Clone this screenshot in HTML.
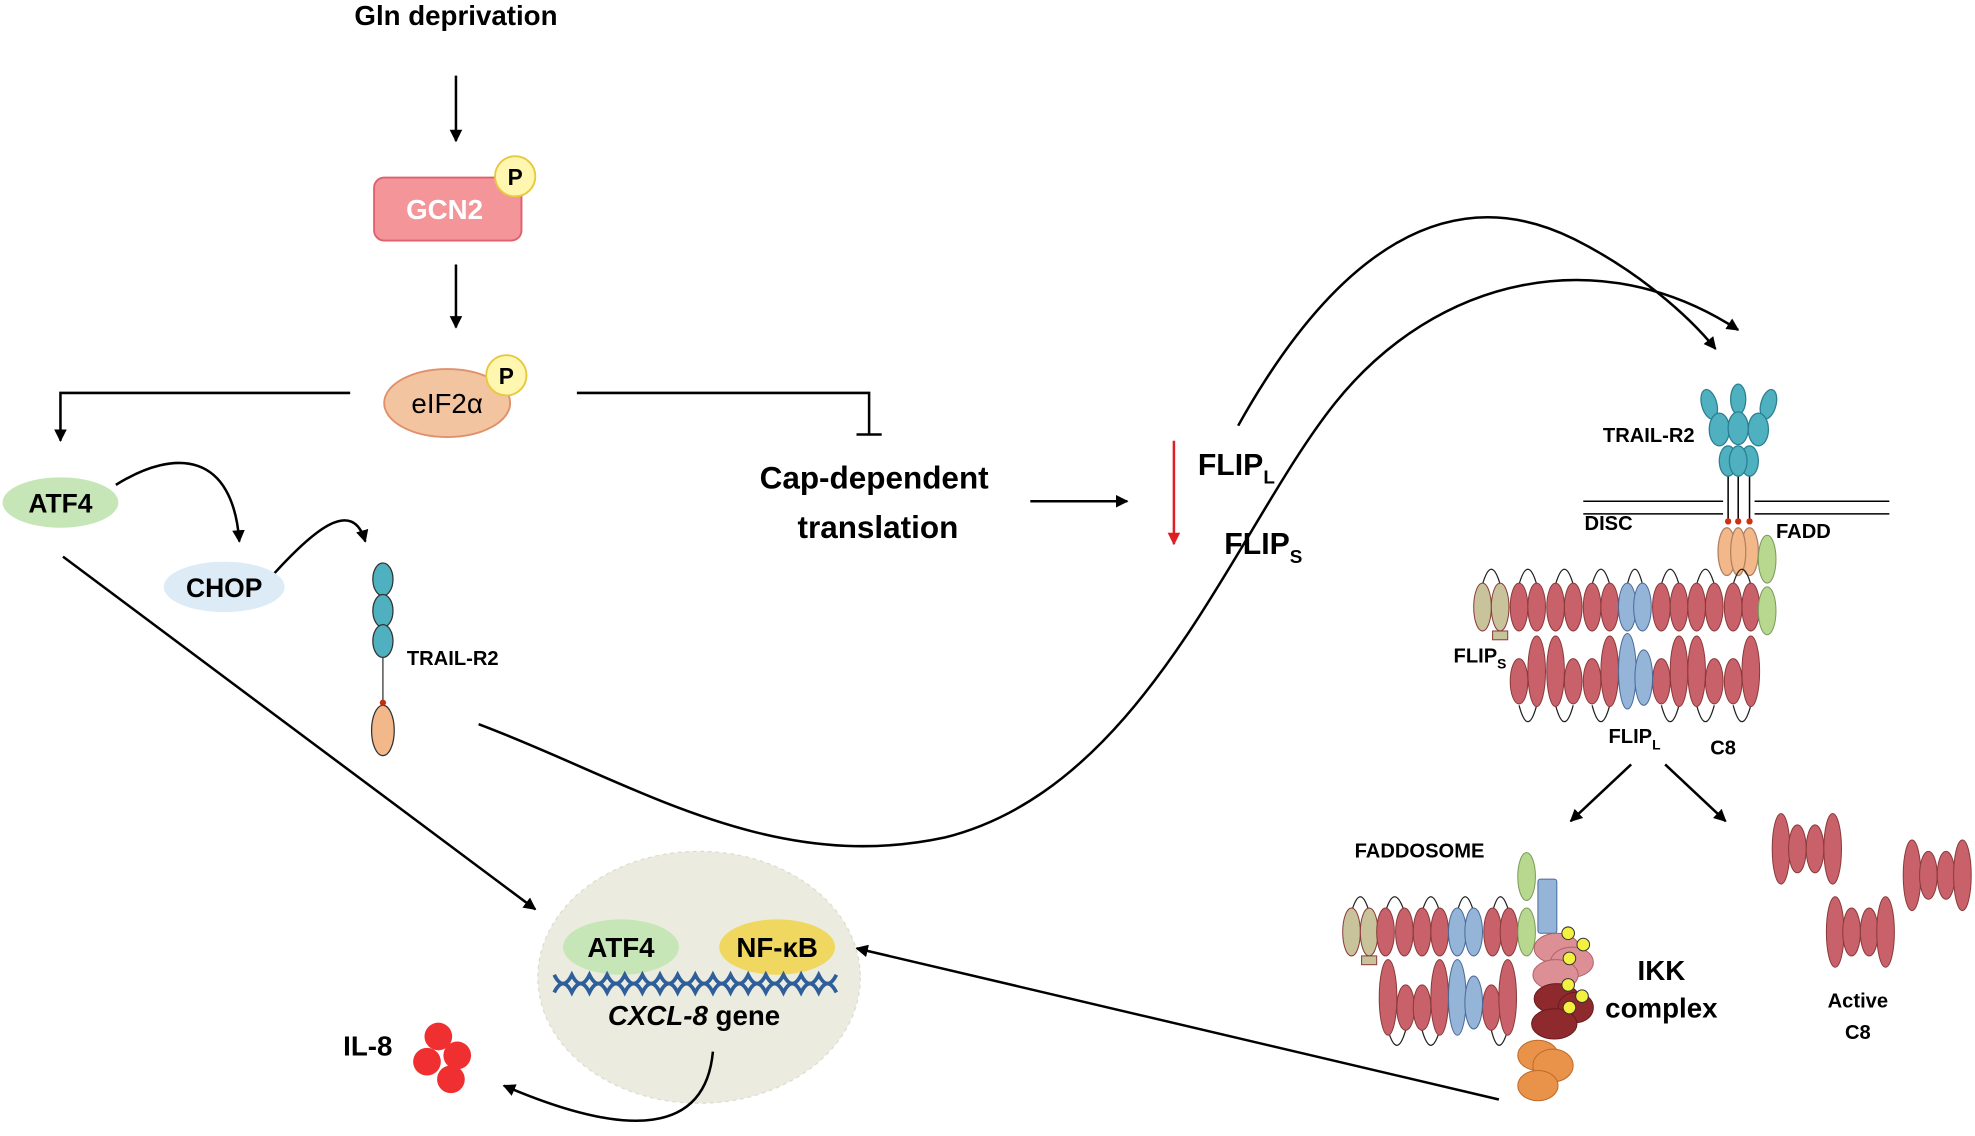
<!DOCTYPE html>
<html><head><meta charset="utf-8"><style>html,body{margin:0;padding:0;background:#fff}svg{display:block}</style></head>
<body>
<svg width="1975" height="1136" viewBox="0 0 1568 902" preserveAspectRatio="none" xmlns="http://www.w3.org/2000/svg" font-family="Liberation Sans, sans-serif" font-weight="bold">
<defs>
<marker id="ah" markerWidth="10" markerHeight="10" refX="9" refY="5" orient="auto" markerUnits="userSpaceOnUse"><path d="M0,0 L10,5 L0,10 z" fill="#000"/></marker>
<marker id="ahr" markerWidth="10" markerHeight="10" refX="9" refY="5" orient="auto" markerUnits="userSpaceOnUse"><path d="M0,0 L10,5 L0,10 z" fill="#e02020"/></marker>
</defs>
<g stroke="#000" stroke-width="2" fill="none">
<line x1="362" y1="60" x2="362" y2="112" marker-end="url(#ah)"/>
<line x1="362" y1="210" x2="362" y2="260" marker-end="url(#ah)"/>
<polyline points="278,312 48,312 48,350" marker-end="url(#ah)"/>
<polyline points="458,312 690,312 690,345"/>
<line x1="680" y1="345" x2="700" y2="345"/>
<path d="M92,385 C140,355 185,360 190,430" marker-end="url(#ah)"/>
<path d="M218,455 C250,420 280,395 290,430" marker-end="url(#ah)"/>
<line x1="818" y1="398" x2="895" y2="398" marker-end="url(#ah)"/>
<path d="M983,338 C1060,200 1150,140 1250,190 C1300,215 1340,250 1362,277" marker-end="url(#ah)"/>
<path d="M380,575 C500,620 610,695 750,665 C910,625 980,420 1060,320 C1140,220 1270,190 1380,262" marker-end="url(#ah)"/>
<line x1="50" y1="442" x2="425" y2="722" marker-end="url(#ah)"/>
<line x1="1190" y1="873" x2="680" y2="753" marker-end="url(#ah)"/>
<line x1="1295" y1="607" x2="1247" y2="652" marker-end="url(#ah)"/>
<line x1="1322" y1="607" x2="1370" y2="652" marker-end="url(#ah)"/>
</g>
<line x1="932" y1="350" x2="932" y2="432" stroke="#e02020" stroke-width="2" marker-end="url(#ahr)"/>

<text x="362" y="20" font-size="22" text-anchor="middle">Gln deprivation</text>
<rect x="297" y="141" width="117" height="50" rx="8" fill="#f4959a" stroke="#e0606e" stroke-width="1.5"/>
<text x="353" y="174" font-size="22" fill="#fff" text-anchor="middle">GCN2</text>
<circle cx="409" cy="140" r="16" fill="#fff6b0" stroke="#e8c840" stroke-width="1.5"/>
<text x="409" y="147" font-size="18" text-anchor="middle">P</text>
<ellipse cx="355" cy="320" rx="50" ry="27" fill="#f2c4a0" stroke="#e0906a" stroke-width="1.5"/>
<text x="355" y="328" font-size="22" font-weight="normal" text-anchor="middle">eIF2α</text>
<circle cx="402" cy="298" r="16" fill="#fff6b0" stroke="#e8c840" stroke-width="1.5"/>
<text x="402" y="305" font-size="18" text-anchor="middle">P</text>
<ellipse cx="48" cy="399" rx="46" ry="20" fill="#c6e6b8"/>
<text x="48" y="407" font-size="21" text-anchor="middle">ATF4</text>
<ellipse cx="178" cy="466" rx="48" ry="20" fill="#dcebf6"/>
<text x="178" y="474" font-size="21" text-anchor="middle">CHOP</text>
<g stroke="#333" stroke-width="1">
<line x1="304" y1="520" x2="304" y2="558"/>
<ellipse cx="304" cy="460" rx="8" ry="13" fill="#4fb0c0"/>
<ellipse cx="304" cy="485" rx="8" ry="13" fill="#4fb0c0"/>
<ellipse cx="304" cy="509" rx="8" ry="13" fill="#4fb0c0"/>
<ellipse cx="304" cy="580" rx="9" ry="20" fill="#f2b88a"/>
</g>
<circle cx="304" cy="558" r="2.5" fill="#c03010"/>
<text x="323" y="528" font-size="16">TRAIL-R2</text>
<text x="694" y="388" font-size="25" text-anchor="middle">Cap-dependent</text>
<text x="697" y="427" font-size="25" text-anchor="middle">translation</text>
<text x="951" y="377" font-size="24">FLIP<tspan font-size="15" dy="7">L</tspan></text>
<text x="972" y="440" font-size="24">FLIP<tspan font-size="15" dy="7">S</tspan></text>

<ellipse cx="555" cy="776" rx="128" ry="100" fill="#ebecdf" stroke="#dcdcd0" stroke-dasharray="3,3"/>
<path d="M566,835 C560,900 500,905 400,862" stroke="#000" stroke-width="2" fill="none" marker-end="url(#ah)"/>
<ellipse cx="493" cy="752" rx="46" ry="22" fill="#c6e6b8"/>
<text x="493" y="760" font-size="22" text-anchor="middle">ATF4</text>
<ellipse cx="617" cy="752" rx="46" ry="22" fill="#f0d860"/>
<text x="617" y="760" font-size="22" text-anchor="middle">NF-κB</text>
<g stroke="#2f5f9a" stroke-width="3" fill="none">
<path d="M440,774 q7,14 14,0 q7,14 14,0 q7,14 14,0 q7,14 14,0 q7,14 14,0 q7,14 14,0 q7,14 14,0 q7,14 14,0 q7,14 14,0 q7,14 14,0 q7,14 14,0 q7,14 14,0 q7,14 14,0 q7,14 14,0 q7,14 14,0 q7,14 14,0"/>
<path d="M440,788 q7,-14 14,0 q7,-14 14,0 q7,-14 14,0 q7,-14 14,0 q7,-14 14,0 q7,-14 14,0 q7,-14 14,0 q7,-14 14,0 q7,-14 14,0 q7,-14 14,0 q7,-14 14,0 q7,-14 14,0 q7,-14 14,0 q7,-14 14,0 q7,-14 14,0 q7,-14 14,0"/>
</g>
<text x="551" y="814" font-size="22" text-anchor="middle"><tspan font-style="italic">CXCL-8</tspan> gene</text>
<text x="292" y="838" font-size="22" text-anchor="middle">IL-8</text>
<g fill="#f03030"><circle cx="348" cy="823" r="11"/><circle cx="339" cy="843" r="11"/><circle cx="363" cy="838" r="11"/><circle cx="358" cy="857" r="11"/></g>

<!-- DISC -->
<g stroke="#000" stroke-width="1.2">
<line x1="1257" y1="398" x2="1368" y2="398"/><line x1="1257" y1="408" x2="1368" y2="408"/>
<line x1="1393" y1="398" x2="1500" y2="398"/><line x1="1393" y1="408" x2="1500" y2="408"/>
<line x1="1372" y1="375" x2="1372" y2="414"/><line x1="1380" y1="375" x2="1380" y2="414"/><line x1="1389" y1="375" x2="1389" y2="414"/>
</g>
<g fill="#4fb0c0" stroke="#2a7f90" stroke-width="1">
<ellipse cx="1357" cy="321" rx="6" ry="12" transform="rotate(-15 1357 321)"/><ellipse cx="1380" cy="317" rx="6" ry="12"/><ellipse cx="1404" cy="321" rx="6" ry="12" transform="rotate(15 1404 321)"/>
<ellipse cx="1365" cy="341" rx="8" ry="13"/><ellipse cx="1396" cy="341" rx="8" ry="13"/><ellipse cx="1380" cy="340" rx="8" ry="13"/>
<ellipse cx="1372" cy="366" rx="7" ry="12"/><ellipse cx="1389" cy="366" rx="7" ry="12"/><ellipse cx="1380" cy="366" rx="7" ry="12"/>
</g>
<g fill="#d03010"><circle cx="1372" cy="414" r="2.5"/><circle cx="1380" cy="414" r="2.5"/><circle cx="1389" cy="414" r="2.5"/></g>
<g fill="#f2b88a" stroke="#b08060"><ellipse cx="1371" cy="438" rx="7" ry="19"/><ellipse cx="1389" cy="438" rx="7" ry="19"/><ellipse cx="1380" cy="438" rx="6" ry="19"/></g>
<g fill="none" stroke="#222" stroke-width="1">
<path d="M1177,464 Q1184,440 1191,464 M1206,464 Q1213,440 1220,464 M1235,464 Q1242,440 1249,464 M1264,464 Q1271,440 1278,464 M1292,464 Q1298,440 1304,464 M1319,464 Q1326,440 1333,464 M1347,464 Q1354,440 1361,464 M1376,464 Q1383,440 1390,464"/>
<path d="M1206,560 Q1213,586 1220,560 M1235,560 Q1242,586 1249,560 M1264,560 Q1271,586 1278,560 M1319,560 Q1326,586 1333,560 M1347,560 Q1354,586 1361,560 M1376,560 Q1383,586 1390,560"/>
</g>
<g stroke="#8a3a3a" stroke-width="0.8">
<ellipse cx="1177" cy="482" rx="7" ry="19" fill="#c8c39a"/><ellipse cx="1191" cy="482" rx="7" ry="19" fill="#c8c39a"/>
<rect x="1185" y="501" width="12" height="7" fill="#c8c39a"/>
<g fill="#c8616a">
<ellipse cx="1206" cy="482" rx="7" ry="19"/><ellipse cx="1220" cy="482" rx="7" ry="19"/><ellipse cx="1235" cy="482" rx="7" ry="19"/><ellipse cx="1249" cy="482" rx="7" ry="19"/><ellipse cx="1264" cy="482" rx="7" ry="19"/><ellipse cx="1278" cy="482" rx="7" ry="19"/><ellipse cx="1319" cy="482" rx="7" ry="19"/><ellipse cx="1333" cy="482" rx="7" ry="19"/><ellipse cx="1347" cy="482" rx="7" ry="19"/><ellipse cx="1361" cy="482" rx="7" ry="19"/><ellipse cx="1376" cy="482" rx="7" ry="19"/><ellipse cx="1390" cy="482" rx="7" ry="19"/>
<ellipse cx="1206" cy="541" rx="7" ry="18"/><ellipse cx="1220" cy="533" rx="7" ry="28"/><ellipse cx="1235" cy="533" rx="7" ry="28"/><ellipse cx="1249" cy="541" rx="7" ry="18"/><ellipse cx="1264" cy="541" rx="7" ry="18"/><ellipse cx="1278" cy="533" rx="7" ry="28"/><ellipse cx="1319" cy="541" rx="7" ry="18"/><ellipse cx="1333" cy="533" rx="7" ry="28"/><ellipse cx="1347" cy="533" rx="7" ry="28"/><ellipse cx="1361" cy="541" rx="7" ry="18"/><ellipse cx="1376" cy="541" rx="7" ry="18"/><ellipse cx="1390" cy="533" rx="7" ry="28"/>
</g>
<g fill="#94b4d8" stroke="#4a6a9a"><ellipse cx="1292" cy="482" rx="7" ry="19"/><ellipse cx="1304" cy="482" rx="7" ry="19"/><ellipse cx="1292" cy="533" rx="7" ry="30"/><ellipse cx="1305" cy="538" rx="7" ry="22"/></g>
<g fill="#b8d890" stroke="#7a9a5a"><ellipse cx="1403" cy="444" rx="7" ry="19"/><ellipse cx="1403" cy="485" rx="7" ry="19"/></g>
</g>
<g font-size="16">
<text x="1309" y="351" text-anchor="middle">TRAIL-R2</text>
<text x="1258" y="421">DISC</text>
<text x="1410" y="427">FADD</text>
<text x="1154" y="526">FLIP<tspan font-size="11" dy="5">S</tspan></text>
<text x="1277" y="590">FLIP<tspan font-size="11" dy="5">L</tspan></text>
<text x="1368" y="599" text-anchor="middle">C8</text>
<text x="1127" y="681" text-anchor="middle">FADDOSOME</text>
<text x="1475" y="800" text-anchor="middle">Active</text>
<text x="1475" y="825" text-anchor="middle">C8</text>
</g>

<!-- FADDOSOME -->
<g fill="none" stroke="#222" stroke-width="1">
<path d="M1073,724 Q1080,700 1087,724 M1100,724 Q1107,700 1115,724 M1129,724 Q1136,700 1143,724 M1157,724 Q1163,700 1170,724 M1185,724 Q1191,700 1198,724"/>
<path d="M1102,818 Q1109,842 1116,818 M1129,818 Q1136,842 1143,818 M1184,818 Q1190,842 1197,818"/>
</g>
<g stroke="#8a3a3a" stroke-width="0.8">
<ellipse cx="1073" cy="740" rx="7" ry="19" fill="#c8c39a"/><ellipse cx="1087" cy="740" rx="7" ry="19" fill="#c8c39a"/>
<rect x="1081" y="759" width="12" height="7" fill="#c8c39a"/>
<g fill="#c8616a">
<ellipse cx="1100" cy="740" rx="7" ry="19"/><ellipse cx="1115" cy="740" rx="7" ry="19"/><ellipse cx="1129" cy="740" rx="7" ry="19"/><ellipse cx="1143" cy="740" rx="7" ry="19"/><ellipse cx="1185" cy="740" rx="7" ry="19"/><ellipse cx="1198" cy="740" rx="7" ry="19"/>
<ellipse cx="1102" cy="792" rx="7" ry="30"/><ellipse cx="1116" cy="800" rx="7" ry="18"/><ellipse cx="1129" cy="800" rx="7" ry="18"/><ellipse cx="1143" cy="792" rx="7" ry="30"/><ellipse cx="1184" cy="800" rx="7" ry="18"/><ellipse cx="1197" cy="792" rx="7" ry="30"/>
</g>
<g fill="#94b4d8" stroke="#4a6a9a"><ellipse cx="1157" cy="740" rx="7" ry="19"/><ellipse cx="1170" cy="740" rx="7" ry="19"/><ellipse cx="1157" cy="792" rx="7" ry="30"/><ellipse cx="1170" cy="796" rx="7" ry="21"/></g>
<g fill="#b8d890" stroke="#7a9a5a"><ellipse cx="1212" cy="696" rx="7" ry="19"/><ellipse cx="1212" cy="740" rx="7" ry="19"/></g>
<rect x="1221" y="698" width="15" height="43" rx="2" fill="#94b4d8" stroke="#4a6a9a"/>
<g fill="#dc9096" stroke="#b06068"><ellipse cx="1236" cy="753" rx="18" ry="12"/><ellipse cx="1248" cy="764" rx="17" ry="12"/><ellipse cx="1235" cy="774" rx="18" ry="12"/></g>
<g fill="#8e2a2e" stroke="#6a1a1e"><ellipse cx="1236" cy="793" rx="18" ry="12"/><ellipse cx="1251" cy="800" rx="14" ry="12"/><ellipse cx="1234" cy="813" rx="18" ry="12"/></g>
<g fill="#f4f040" stroke="#333"><circle cx="1245" cy="741" r="5"/><circle cx="1257" cy="750" r="5"/><circle cx="1246" cy="761" r="5"/><circle cx="1245" cy="782" r="5"/><circle cx="1256" cy="791" r="5"/><circle cx="1246" cy="800" r="5"/></g>
<g fill="#e8924a" stroke="#c06a2a"><ellipse cx="1221" cy="838" rx="16" ry="12"/><ellipse cx="1233" cy="846" rx="16" ry="13"/><ellipse cx="1221" cy="862" rx="16" ry="12"/></g>
<g fill="#c8616a">
<ellipse cx="1414" cy="674" rx="7" ry="28"/><ellipse cx="1427" cy="674" rx="7" ry="19"/><ellipse cx="1441" cy="674" rx="7" ry="19"/><ellipse cx="1455" cy="674" rx="7" ry="28"/>
<ellipse cx="1457" cy="740" rx="7" ry="28"/><ellipse cx="1470" cy="740" rx="7" ry="19"/><ellipse cx="1484" cy="740" rx="7" ry="19"/><ellipse cx="1497" cy="740" rx="7" ry="28"/>
<ellipse cx="1518" cy="695" rx="7" ry="28"/><ellipse cx="1531" cy="695" rx="7" ry="19"/><ellipse cx="1545" cy="695" rx="7" ry="19"/><ellipse cx="1558" cy="695" rx="7" ry="28"/>
</g>
</g>
<text x="1319" y="778" font-size="22" text-anchor="middle">IKK</text>
<text x="1319" y="808" font-size="22" text-anchor="middle">complex</text>
</svg>
</body></html>
